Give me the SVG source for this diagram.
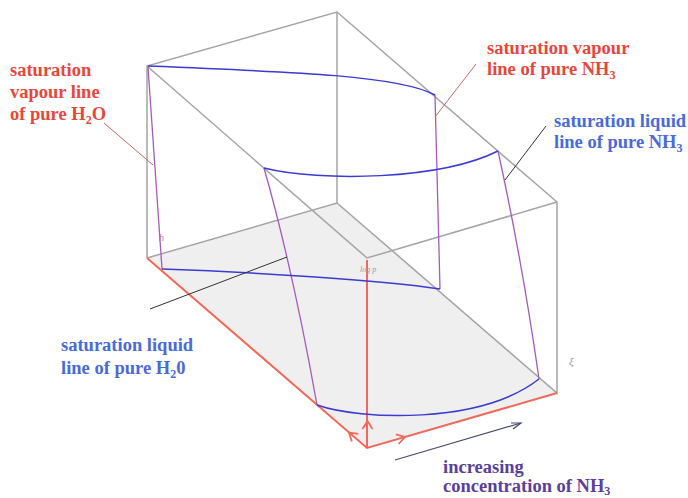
<svg xmlns="http://www.w3.org/2000/svg" width="688" height="498" viewBox="0 0 688 498">
<style>
.edge{stroke:#a4a4a4;stroke-width:1.5;fill:none}
.axis{stroke:#ef6a5a;stroke-width:2;fill:none}
.chev{stroke:#ef6a5a;stroke-width:1.8;fill:none;stroke-linejoin:miter}
.pur{stroke:#a35cb8;stroke-width:1.3;fill:none}
.blu{stroke:#3b3bcf;stroke-width:1.5;fill:none}
.lbl{font-family:"Liberation Serif","Times New Roman",serif;font-weight:bold;font-size:18.5px}
.red{fill:#e5473c}
.blue{fill:#4a6ad6}
.violet{fill:#5c3f98}
.ax{font-family:"Liberation Serif",serif;font-style:italic;fill:#9a9a9a}
.ptr-r{stroke:#c46a6a;stroke-width:1}
.ptr-k{stroke:#333333;stroke-width:1}
</style>
<rect width="688" height="498" fill="#ffffff"/>
<g id="box">
<polygon points="147,258 337,203 557,393 367,448" fill="#efefef" stroke="none"/>
<polyline class="edge" points="147,258 147,66 337,12 557,202 557,393 337,203 147,258"/>
<line class="edge" x1="337" y1="12" x2="337" y2="203"/>
<polyline class="edge" points="147,66 367,258 557,202"/>
</g>
<g id="axes">
<polyline class="axis" points="147,258 367,448 557,393"/>
<line class="axis" x1="367" y1="448" x2="367" y2="260"/>
<path class="chev" d="M-8,-5 L0,0 L-8,5" transform="translate(367.5,421) rotate(-90)"/>
<path class="chev" d="M-8,-5 L0,0 L-8,5" transform="translate(349,432.5) rotate(-139.2)"/>
<path class="chev" d="M-8,-5 L0,0 L-8,5" transform="translate(405,437) rotate(-16.1)"/>
<text class="ax" x="159" y="241" font-size="10">h</text>
<text class="ax" x="360" y="272" font-size="8">log p</text>
<text class="ax" x="569" y="365" font-size="11">ξ</text>
</g>
<g id="curves">
<path class="pur" d="M148,67 L162,269"/>
<path class="pur" d="M264,168 Q293,270 317,405"/>
<path class="pur" d="M435,95 L440,289"/>
<path class="pur" d="M498,151 Q522,260 539,379"/>
<path class="blu" d="M148,66 C300,72 400,76 435,95"/>
<path class="blu" d="M264,168 C320,182 440,180 498,151"/>
<path class="blu" d="M162,269 C250,272 380,280 440,289"/>
<path class="blu" d="M317,405 C360,420 480,425 539,379"/>
</g>
<g id="connectors">
<line class="ptr-r" x1="104" y1="123" x2="153" y2="165"/>
<line class="ptr-r" x1="476" y1="64" x2="435" y2="117"/>
<line class="ptr-k" x1="546" y1="126" x2="505" y2="180"/>
<line class="ptr-k" x1="150" y1="309" x2="287" y2="257"/>
<line stroke="#4a4a6e" stroke-width="1.2" x1="395" y1="460" x2="521" y2="423"/>
<path d="M511,423 L521,423 L513,429" stroke="#4a4a6e" stroke-width="1.2" fill="none"/>
</g>
<g id="label-h2o-vapour">
<text class="lbl red" x="10" y="76">saturation</text>
<text class="lbl red" x="10" y="98">vapour line</text>
<text class="lbl red" x="10" y="120">of pure H<tspan font-size="12" dy="4">2</tspan><tspan dy="-4">O</tspan></text>
</g>
<g id="label-nh3-vapour">
<text class="lbl red" x="487" y="54">saturation vapour</text>
<text class="lbl red" x="487" y="75">line of pure NH<tspan font-size="12" dy="4">3</tspan></text>
</g>
<g id="label-nh3-liquid">
<text class="lbl blue" x="554" y="127">saturation liquid</text>
<text class="lbl blue" x="554" y="148">line of pure NH<tspan font-size="12" dy="4">3</tspan></text>
</g>
<g id="label-h2o-liquid">
<text class="lbl blue" x="61" y="351">saturation liquid</text>
<text class="lbl blue" x="61" y="374">line of pure H<tspan font-size="12" dy="4">2</tspan><tspan dy="-4">0</tspan></text>
</g>
<g id="label-concentration">
<text class="lbl violet" x="443" y="473">increasing</text>
<text class="lbl violet" x="443" y="492">concentration of NH<tspan font-size="12" dy="3">3</tspan></text>
</g>
</svg>
